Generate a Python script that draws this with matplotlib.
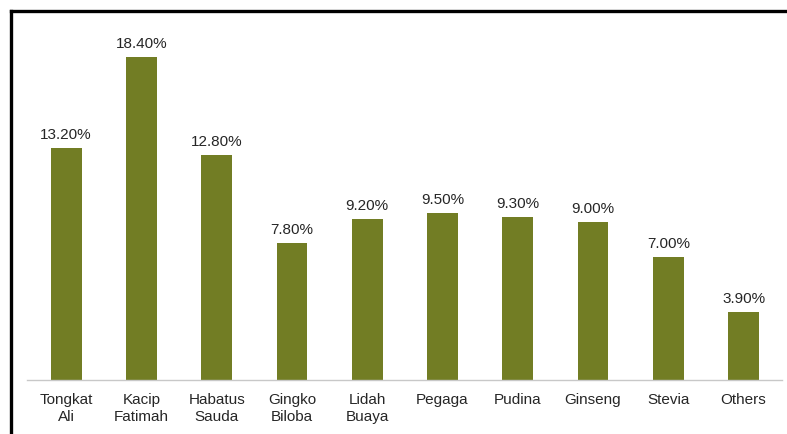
import matplotlib.pyplot as plt
from matplotlib.lines import Line2D

# data
herbs = ['Tongkat\nAli', 'Kacip\nFatimah', 'Habatus\nSauda', 'Gingko\nBiloba', 'Lidah\nBuaya',
         'Pegaga', 'Pudina', 'Ginseng', 'Stevia', 'Others']
shares = [13.2, 18.4, 12.8, 7.8, 9.2, 9.5, 9.3, 9.0, 7.0, 3.9]

plt.rcParams['font.family'] = ['Liberation Sans', 'DejaVu Sans']

fig = plt.figure(figsize=(7.87, 4.35), dpi=100)
ax = fig.add_axes([27 / 787, 54 / 435, 755 / 787, 351 / 435])

x = range(len(herbs))
bars = ax.bar(x, shares, width=0.41, color='#727d24')

for b, v in zip(bars, shares):
    ax.text(b.get_x() + b.get_width() / 2, v + 0.4, f'{v:.2f}%',
            ha='center', va='bottom', fontsize=11, color='#262626')

ax.set_xlim(-0.52, 9.51)
ax.set_ylim(0, 20)
ax.set_xticks(list(x))
ax.set_xticklabels(herbs, fontsize=11, color='#262626', linespacing=1.25)
ax.tick_params(axis='x', length=0, pad=9)
ax.set_yticks([])
for s in ['top', 'right', 'left']:
    ax.spines[s].set_visible(False)
ax.spines['bottom'].set_color('#c8c8c8')
ax.spines['bottom'].set_linewidth(1.0)

# outer frame (top and left edges visible)
fig.add_artist(Line2D([11 / 787, 1], [1 - 12 / 435, 1 - 12 / 435], color='black', lw=2.4,
                      transform=fig.transFigure))
fig.add_artist(Line2D([11 / 787, 11 / 787], [0, 1 - 12 / 435], color='black', lw=2.4,
                      transform=fig.transFigure))

fig.savefig('out.png', dpi=100)
